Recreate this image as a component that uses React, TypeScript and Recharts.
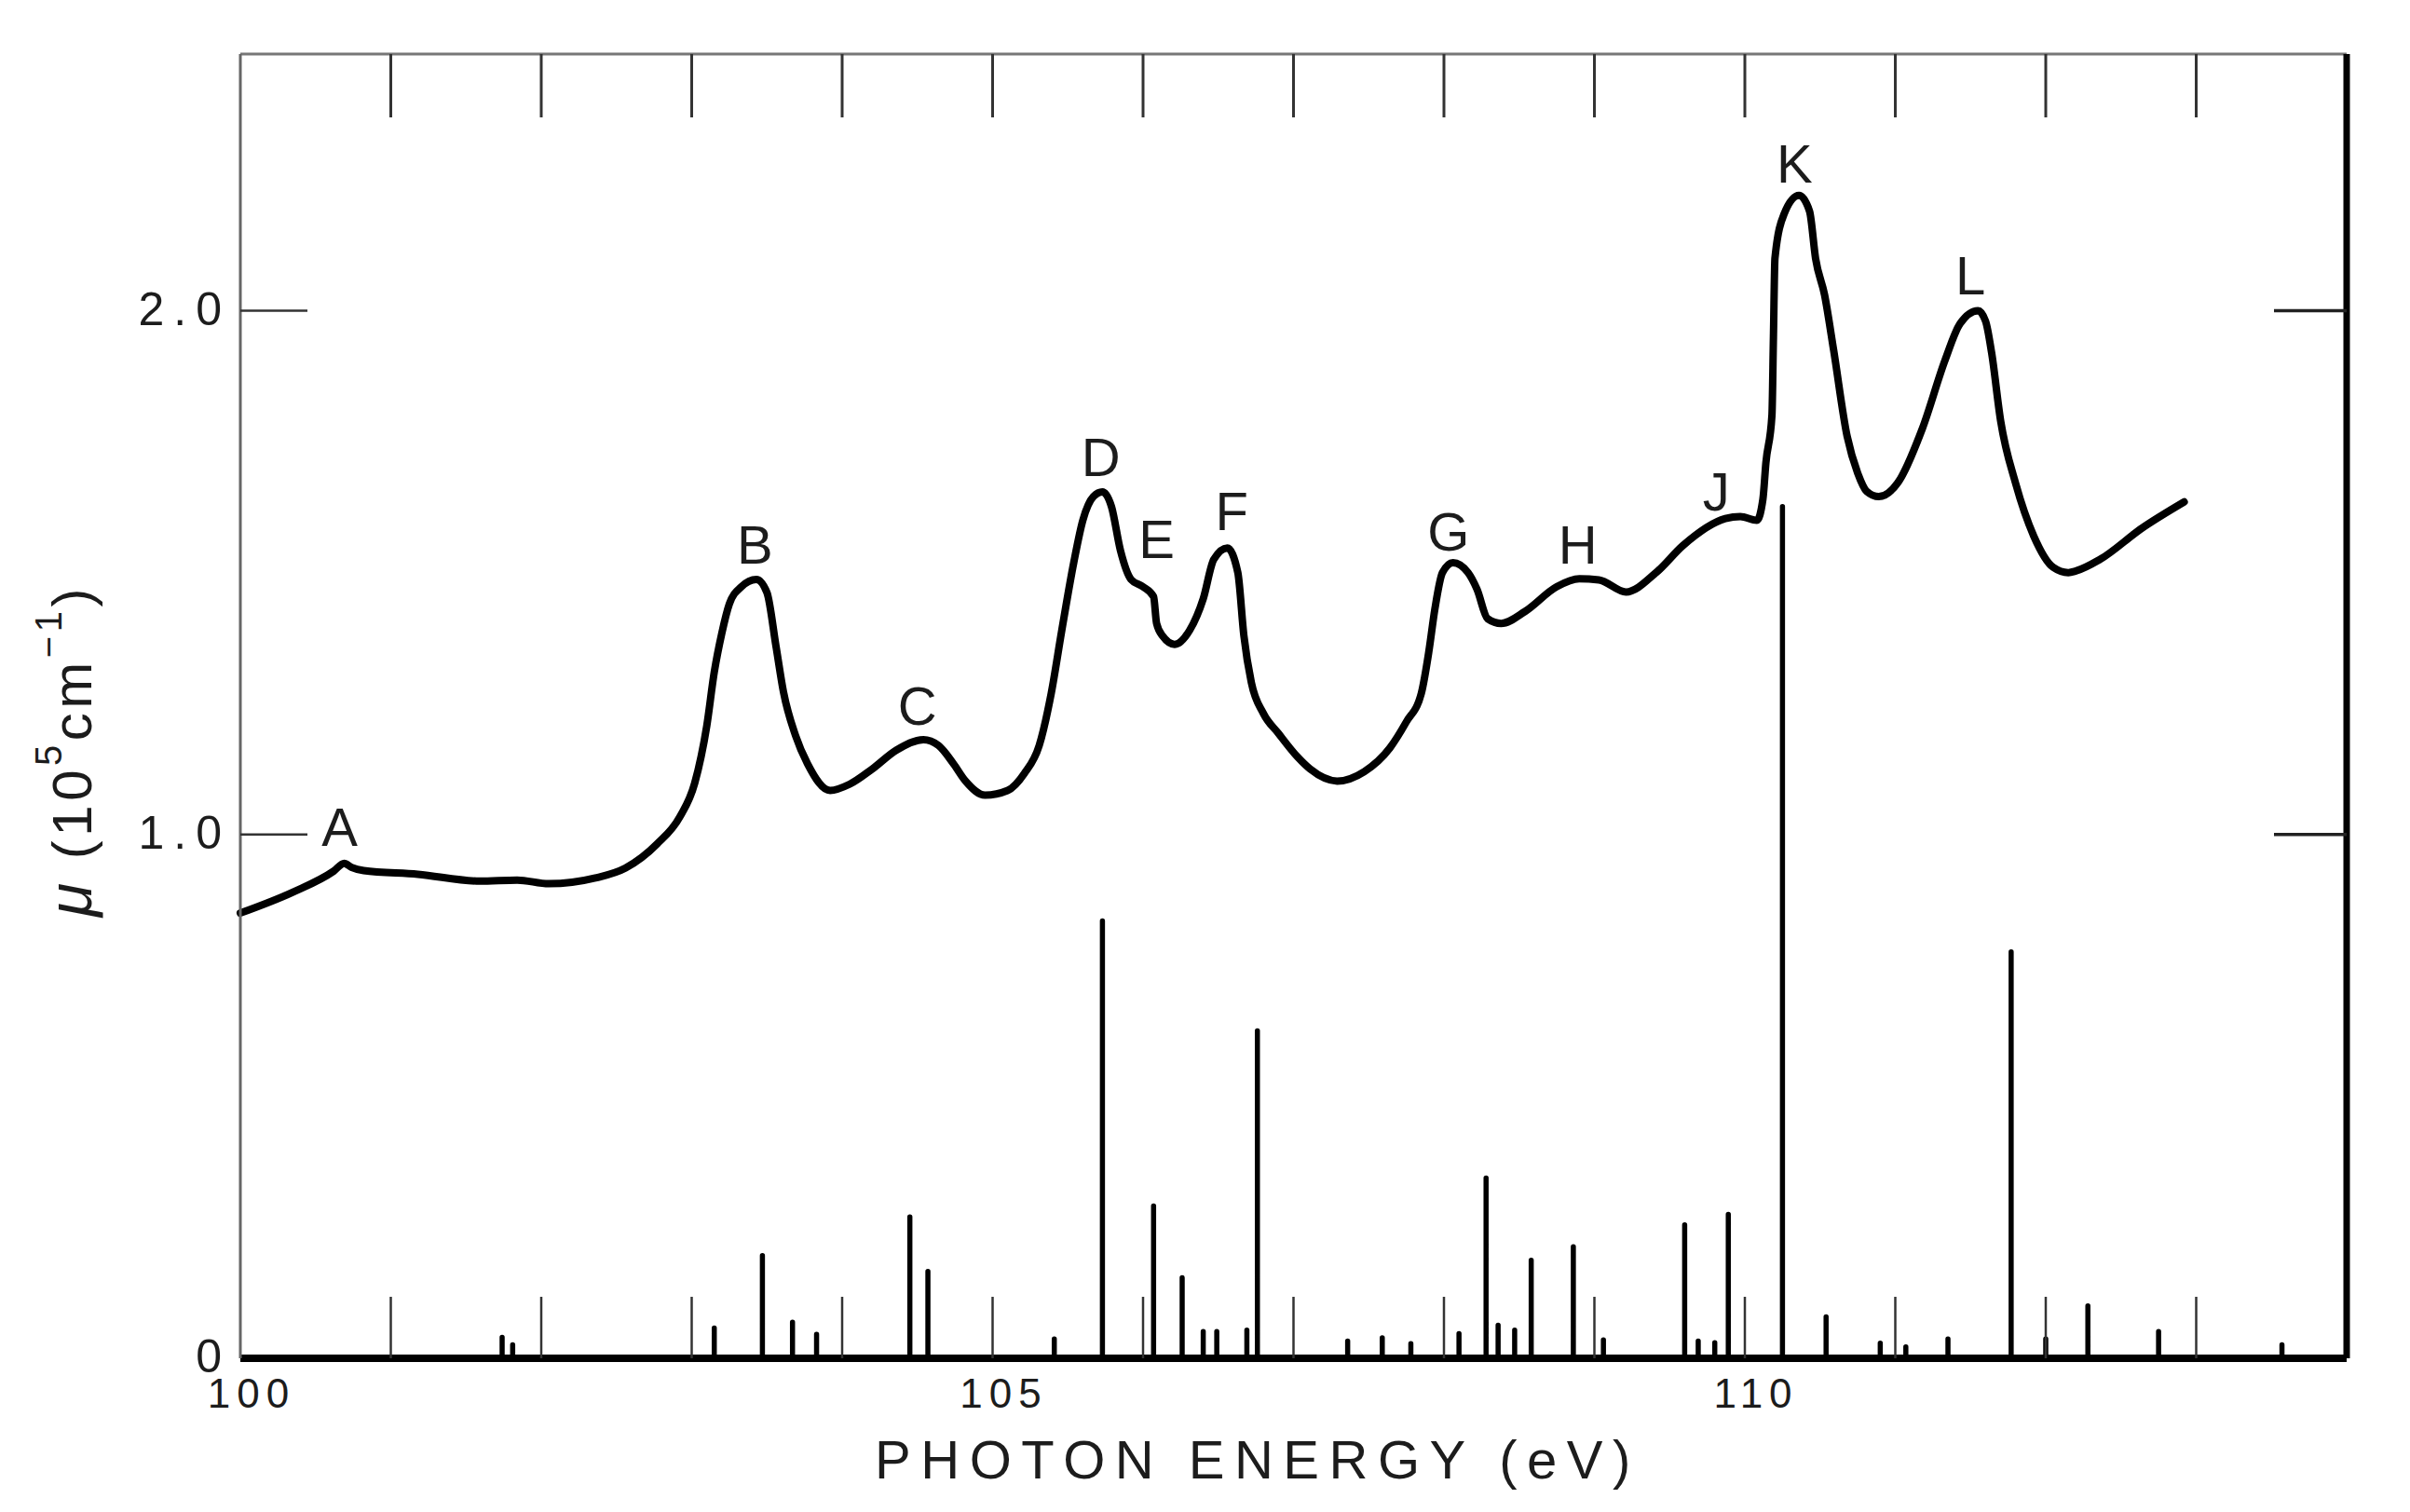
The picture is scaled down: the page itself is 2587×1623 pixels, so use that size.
import { ComposedChart, Line, XAxis, YAxis, ReferenceDot } from "recharts";

const curveEnergy = [
  100, 100.35, 100.62, 100.69, 100.74, 100.82, 101.18, 101.59, 101.84, 102.05, 102.36, 102.56, 102.77, 102.92, 103.02,
  103.1, 103.15, 103.2, 103.25, 103.33, 103.43, 103.5, 103.56, 103.61, 103.69, 103.77, 103.92, 104.05, 104.2, 104.36,
  104.54, 104.64, 104.74, 104.82, 104.95, 105.1, 105.21, 105.31, 105.39, 105.46, 105.54, 105.6, 105.67, 105.73, 105.79,
  105.85, 105.92, 106.0, 106.07, 106.09, 106.13, 106.21, 106.31, 106.4, 106.47, 106.56, 106.63, 106.67, 106.72, 106.8,
  106.9, 107.03, 107.11, 107.29, 107.47, 107.64, 107.75, 107.85, 107.9, 107.94, 107.99, 108.06, 108.16, 108.22, 108.29,
  108.38, 108.54, 108.75, 108.9, 109.03, 109.21, 109.41, 109.59, 109.87, 109.97, 110.08, 110.12, 110.14, 110.18, 110.19,
  110.2, 110.26, 110.36, 110.43, 110.47, 110.53, 110.59, 110.68, 110.75, 110.81, 110.89, 111.02, 111.18, 111.33, 111.43,
  111.55, 111.6, 111.64, 111.7, 111.8, 111.92, 112.05, 112.15, 112.2, 112.36, 112.64, 112.92,
];
const curveMu = [
  0.85, 0.89, 0.93, 0.945, 0.937, 0.931, 0.924, 0.911, 0.913, 0.906, 0.917, 0.936, 0.982, 1.033, 1.098,
  1.207, 1.31, 1.384, 1.44, 1.473, 1.487, 1.462, 1.36, 1.272, 1.189, 1.135, 1.084, 1.096, 1.125, 1.161,
  1.181, 1.17, 1.135, 1.102, 1.075, 1.084, 1.116, 1.17, 1.27, 1.39, 1.52, 1.6, 1.645, 1.654, 1.626,
  1.542, 1.487, 1.473, 1.454, 1.403, 1.379, 1.363, 1.39, 1.45, 1.525, 1.547, 1.5, 1.38, 1.29, 1.231,
  1.193, 1.147, 1.125, 1.102, 1.12, 1.165, 1.215, 1.27, 1.35, 1.431, 1.5, 1.519, 1.5, 1.468, 1.412,
  1.403, 1.426, 1.473, 1.488, 1.486, 1.463, 1.5, 1.552, 1.603, 1.607, 1.6, 1.64, 1.71, 1.8, 1.95,
  2.1, 2.184, 2.22, 2.19, 2.1, 2.03, 1.925, 1.76, 1.69, 1.655, 1.645, 1.673, 1.775, 1.905, 1.975,
  2.0, 1.98, 1.92, 1.79, 1.67, 1.57, 1.51, 1.5, 1.503, 1.525, 1.585, 1.635,
];

const lineEnergy = [
  101.74, 101.81, 103.15, 103.47, 103.67, 103.83, 104.45, 104.57, 105.41, 105.73, 106.07, 106.26, 106.4, 106.49, 106.69,
  106.76, 107.36, 107.59, 107.78, 108.1, 108.28, 108.36, 108.47, 108.58, 108.86, 109.06, 109.6, 109.69, 109.8, 109.89,
  110.25, 110.54, 110.9, 111.07, 111.35, 111.77, 112.0, 112.28, 112.75, 113.57,
];
const lineStrength = [
  0.04, 0.026, 0.058, 0.196, 0.069, 0.046, 0.27, 0.166, 0.037, 0.835, 0.291, 0.154, 0.051, 0.051, 0.054,
  0.625, 0.033, 0.039, 0.028, 0.047, 0.344, 0.063, 0.054, 0.187, 0.213, 0.035, 0.255, 0.033, 0.03, 0.275,
  1.626, 0.079, 0.029, 0.022, 0.037, 0.776, 0.037, 0.1, 0.051, 0.026,
];

const peakLetters = ["A", "B", "C", "D", "E", "F", "G", "H", "J", "K", "L"];
const peakEnergy = [100.66, 103.42, 104.5, 105.72, 106.09, 106.59, 108.03, 108.89, 109.81, 110.33, 111.5];
const peakLabelMu = [1.015, 1.554, 1.246, 1.721, 1.564, 1.617, 1.578, 1.554, 1.656, 2.282, 2.068];

const xTicks = [100, 101, 102, 103, 104, 105, 106, 107, 108, 109, 110, 111, 112, 113];
const xTickLabels = ["100", "105", "110"];
const yTicks = [0, 1, 2];
const yTickLabels = ["0", "1.0", "2.0"];

const FONT = "'Liberation Sans', sans-serif";
const INK = "#1c1c1c";

const curve = curveEnergy.map((x, i) => ({ x, mu: curveMu[i] }));
// every line goes up from the baseline and back, so one series draws them all
const lines = lineEnergy.flatMap((x, i) => [
  { x, mu: 0 },
  { x, mu: lineStrength[i] },
  { x, mu: 0 },
]);

function BottomTick({ x, y, payload }: any) {
  const label = xTickLabels.find((t) => Number(t) === payload.value);
  return (
    <g>
      {payload.value > 100 && <line x1={x} x2={x} y1={y} y2={y - 66} stroke="#333" strokeWidth={2.5} />}
      {label && (
        <text x={x + 12} y={y + 53} textAnchor="middle" fontFamily={FONT} fontSize={44} letterSpacing={7} fill={INK}>
          {label}
        </text>
      )}
    </g>
  );
}

function TopTick({ x, y, payload }: any) {
  return <g>{payload.value > 100 && <line x1={x} x2={x} y1={y} y2={y + 68} stroke="#333" strokeWidth={3} />}</g>;
}

function LeftTick({ x, y, payload }: any) {
  const label = yTickLabels[yTicks.indexOf(payload.value)];
  return (
    <g>
      {payload.value > 0 && <line x1={x} x2={x + 72} y1={y} y2={y} stroke="#333" strokeWidth={2.5} />}
      <text x={x - 10} y={y + 15} textAnchor="end" fontFamily={FONT} fontSize={50} letterSpacing={10} fill={INK}>
        {label}
      </text>
    </g>
  );
}

function RightTick({ x, y, payload }: any) {
  return <g>{payload.value > 0 && <line x1={x} x2={x - 78} y1={y} y2={y} stroke="#222" strokeWidth={3.5} />}</g>;
}

function YTitle() {
  return (
    <text
      x={98}
      y={984}
      transform="rotate(-90 98 984)"
      fontFamily={FONT}
      fontSize={60}
      letterSpacing={4.5}
      fill={INK}
    >
      <tspan fontStyle="italic" fontSize={66}>μ</tspan>
      <tspan> (10</tspan>
      <tspan fontSize={40} dy={-32}>5</tspan>
      <tspan dy={32}>cm</tspan>
      <tspan fontSize={40} dy={-32}>−1</tspan>
      <tspan dy={32}>)</tspan>
    </text>
  );
}

function XTitle() {
  return (
    <text x={1350} y={1587} textAnchor="middle" fontFamily={FONT} fontSize={58} letterSpacing={10.5} fill={INK}>
      PHOTON ENERGY (eV)
    </text>
  );
}

export default function App() {
  return (
    <div style={{ position: "absolute", left: 0, top: 0, width: 2587, height: 1623, background: "#fff" }}>
      <ComposedChart width={2587} height={1623} margin={{ top: 0, right: 0, bottom: 0, left: 0 }}>
        <XAxis
          xAxisId="bottom"
          type="number"
          dataKey="x"
          domain={[100, 114]}
          ticks={xTicks}
          interval={0}
          height={165}
          tickSize={0}
          tickMargin={0}
          tickLine={false}
          tick={BottomTick}
          axisLine={{ stroke: "#000", strokeWidth: 8 }}
          label={{ content: XTitle }}
        />
        <XAxis
          xAxisId="top"
          orientation="top"
          type="number"
          dataKey="x"
          domain={[100, 114]}
          ticks={xTicks}
          interval={0}
          height={58}
          tickSize={0}
          tickMargin={0}
          tickLine={false}
          tick={TopTick}
          axisLine={{ stroke: "#777", strokeWidth: 3 }}
        />
        <YAxis
          yAxisId="left"
          type="number"
          domain={[0, 2.49]}
          ticks={yTicks}
          interval={0}
          width={258}
          tickSize={0}
          tickMargin={0}
          tickLine={false}
          tick={LeftTick}
          axisLine={{ stroke: "#666", strokeWidth: 3 }}
          label={{ content: YTitle }}
        />
        <YAxis
          yAxisId="right"
          orientation="right"
          type="number"
          domain={[0, 2.49]}
          ticks={yTicks}
          interval={0}
          width={68}
          tickSize={0}
          tickMargin={0}
          tickLine={false}
          tick={RightTick}
          axisLine={{ stroke: "#000", strokeWidth: 7 }}
        />
        {/* top/right axes share the bottom/left domains, and need a series of their own to get ticks */}
        <Line
          xAxisId="top"
          yAxisId="right"
          data={lines}
          dataKey="mu"
          type="linear"
          stroke="#000"
          strokeWidth={5.5}
          strokeLinejoin="round"
          dot={false}
          activeDot={false}
          isAnimationActive={false}
        />
        <Line
          xAxisId="bottom"
          yAxisId="left"
          data={curve}
          dataKey="mu"
          type="monotone"
          stroke="#000"
          strokeWidth={8}
          strokeLinecap="round"
          dot={false}
          activeDot={false}
          isAnimationActive={false}
        />
        {peakLetters.map((letter, i) => (
          <ReferenceDot
            key={letter}
            xAxisId="bottom"
            yAxisId="left"
            x={peakEnergy[i]}
            y={peakLabelMu[i]}
            r={0}
            stroke="none"
            label={{ value: letter, position: "center", fontFamily: FONT, fontSize: 58, fill: INK }}
          />
        ))}
      </ComposedChart>
    </div>
  );
}
